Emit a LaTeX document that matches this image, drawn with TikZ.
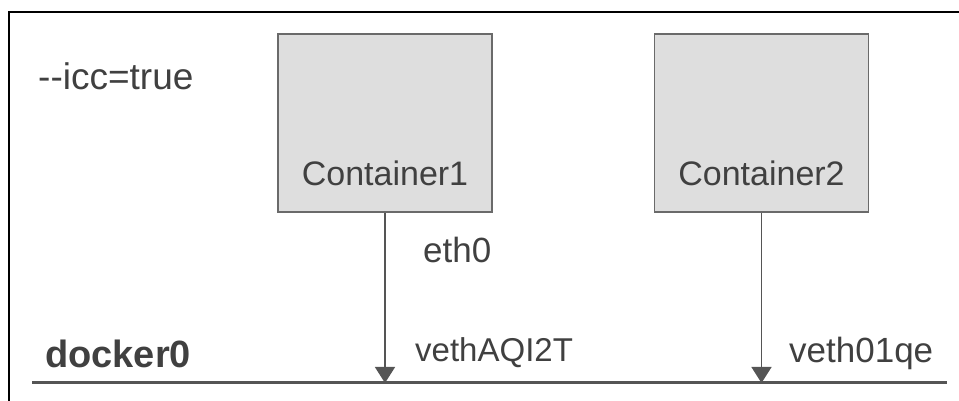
\documentclass[tikz,border=0pt]{standalone}
\usepackage{fontspec}
\setmainfont{Liberation Sans}
\usetikzlibrary{arrows.meta}
\definecolor{txt}{HTML}{404040}
\definecolor{boxfill}{HTML}{DEDEDE}
\definecolor{boxline}{HTML}{6A6A6A}
\definecolor{wire}{HTML}{555555}
\tikzset{
  lbl/.style={inner sep=0pt, anchor=base west, text=txt, font=\fontsize{35}{40}\selectfont},
  cbox/.style={draw=boxline, fill=boxfill, line width=1.6pt, minimum width=214pt, minimum height=178pt, inner sep=0pt},
  arr/.style={draw=wire, line width=1.4pt, -{Triangle[width=20pt,length=16pt]}},
  bus/.style={draw=wire, line width=3pt},
  frame/.style={draw=black, line width=2pt}
}
\begin{document}
\begin{tikzpicture}[x=1pt,y=1pt]
\useasboundingbox (0,0) rectangle (959,401);
\draw[frame] (9,0) -- (9,389) -- (959,389);
\node[lbl, font=\fontsize{37}{42}\selectfont] (icc) at (38,311) {-{}-icc=true};
\node[cbox] (c1) at (385,278) {};
\node[cbox] (c2) at (761.5,278) {};
\node[lbl, anchor=base, font=\fontsize{34}{40}\selectfont] (c1t) at (385,215) {Container1};
\node[lbl, anchor=base, font=\fontsize{34}{40}\selectfont] (c2t) at (761.5,215) {Container2};
\coordinate (busL) at (32,18);
\coordinate (busR) at (947,18);
\draw[bus] (busL) -- (busR);
\draw[arr] (c1.south) -- (c1.south |- busL);
\draw[arr] (c2.south) -- (c2.south |- busL);
\node[lbl] (eth) at (423,138) {eth0};
\node[lbl, font=\fontsize{33}{38}\selectfont] (v1) at (415,39) {vethAQI2T};
\node[lbl] (v2) at (789,38) {veth01qe};
\node[lbl, font=\fontsize{38}{42}\selectfont\bfseries] (dk) at (45,33) {docker0};
\end{tikzpicture}
\end{document}
